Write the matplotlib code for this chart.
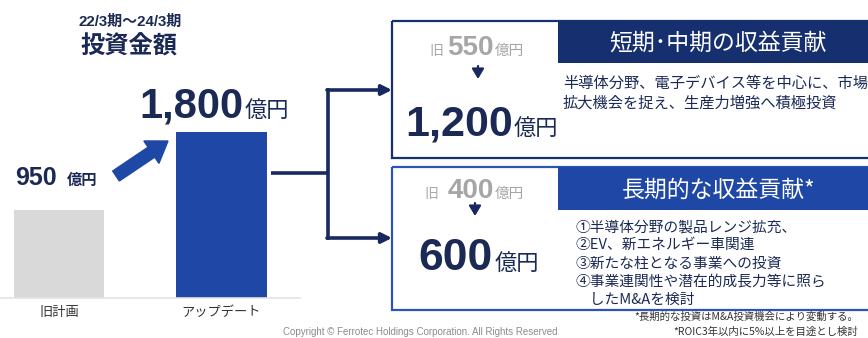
import matplotlib
matplotlib.use("Agg")
import matplotlib.pyplot as plt
from matplotlib.patches import Rectangle, FancyArrow

# ---------------- data ----------------
categories = ["旧計画", "アップデート"]
values = [950, 1800]
bar_colors = ["#d9d9d9", "#1f47a6"]

short_old, short_new = 550, 1200
long_old, long_new = 400, 600

title_period = "22/3期～24/3期"
title_main = "投資金額"
unit = "億円"
short_header = "短期･中期の収益貢献"
long_header = "長期的な収益貢献*"
short_body = ["半導体分野、電子デバイス等を中心に、市場",
              "拡大機会を捉え、生産力増強へ積極投資"]
long_body = ["①半導体分野の製品レンジ拡充、",
             "②EV、新エネルギー車関連",
             "③新たな柱となる事業への投資",
             "④事業連関性や潜在的成長力等に照ら",
             "　したM&Aを検討"]
footnotes = ["*長期的な投資はM&A投資機会により変動する。",
             "*ROIC3年以内に5%以上を目途とし検討"]
copyright_text = "Copyright © Ferrotec Holdings Corporation. All Rights Reserved"

# ---------------- style ----------------
NAVY = "#17295e"
HEAD_NAVY = "#162f6e"
BLUE = "#1f47a6"
GRAY_TXT = "#a6a6a6"
JP = ["Noto Sans CJK JP", "DejaVu Sans"]
NUM = ["Liberation Sans", "Noto Sans CJK JP", "DejaVu Sans"]

W, H = 868, 338
fig = plt.figure(figsize=(W / 100, H / 100), dpi=100)
fig.patch.set_facecolor("white")

# ---------------- bar chart ----------------
base_y = 298
bx = fig.add_axes([0, (H - base_y) / H, 300 / W, base_y / H])
bx.bar(range(len(values)), values, width=0.554, color=bar_colors, zorder=2)
bx.set_xlim(-0.363, 1.483)
bx.set_ylim(0, 3230)
bx.patch.set_alpha(0)
for s in ["top", "right", "left"]:
    bx.spines[s].set_visible(False)
bx.spines["bottom"].set_color("#e3e3e3")
bx.spines["bottom"].set_linewidth(1.2)
bx.set_yticks([])
bx.set_xticks(range(len(categories)))
bx.set_xticklabels(categories, fontfamily=JP, fontsize=9.5, color="#333333")
bx.tick_params(axis="x", length=0, pad=6)

# ---------------- overlay ----------------
ax = fig.add_axes([0, 0, 1, 1], zorder=3)
ax.set_xlim(0, W)
ax.set_ylim(H, 0)
ax.axis("off")
ax.patch.set_alpha(0)

# titles
ax.text(130, 22, title_period, ha="center", va="center", fontsize=10.8,
        fontweight="bold", family=NUM, color="#1b2a55")
ax.text(129, 47, title_main, ha="center", va="center", fontsize=17.5,
        fontweight="bold", family=JP, color="#1b2a55")

# value labels on the bars
ax.text(57, 185, f"{values[0]:,}", ha="right", va="baseline", fontsize=18,
        fontweight="bold", family=NUM, color="#1b2a55")
ax.text(67, 185, unit, ha="left", va="baseline", fontsize=11,
        fontweight="bold", family=JP, color="#1b2a55")
ax.text(243, 117, f"{values[1]:,}", ha="right", va="baseline", fontsize=30,
        fontweight="bold", family=NUM, color="#1b2a55")
ax.text(245, 117, unit, ha="left", va="baseline", fontsize=16,
        family=JP, color="#1b2a55")

# big blue arrow
ax.add_patch(FancyArrow(116, 176, 52, -35, width=12, head_width=27,
                        head_length=20, length_includes_head=True,
                        color=BLUE, zorder=4))

# connectors
ax.plot([271, 328], [173, 173], color=NAVY, lw=2.6, solid_capstyle="butt")
ax.plot([328, 328], [90, 238], color=NAVY, lw=2.6, solid_capstyle="projecting")
for yy in (90, 238):
    ax.annotate("", xy=(392, yy), xytext=(327, yy),
                arrowprops=dict(arrowstyle="-|>,head_length=0.6,head_width=0.3",
                                color=NAVY, lw=2.6, shrinkA=0, shrinkB=0))

# ---------------- top box ----------------
ax.add_patch(Rectangle((392, 21), 520, 137, fill=False, edgecolor=HEAD_NAVY, lw=1.6))
ax.add_patch(Rectangle((558, 21), 360, 42, facecolor=HEAD_NAVY, edgecolor="none"))
ax.text(718, 43, short_header, ha="center", va="center", fontsize=16.5,
        family=JP, color="white")
for i, line in enumerate(short_body):
    ax.text(563, 83 + 20 * i, line, ha="left", va="center", fontsize=11,
            family=JP, color="#1b2a55")
ax.text(443, 55, "旧", ha="right", va="baseline", fontsize=10, family=JP, color=GRAY_TXT)
ax.text(494, 55, f"{short_old}", ha="right", va="baseline", fontsize=20,
        fontweight="bold", family=NUM, color=GRAY_TXT)
ax.text(495, 55, unit, ha="left", va="baseline", fontsize=10.5, family=JP, color=GRAY_TXT)
ax.annotate("", xy=(478, 79), xytext=(478, 66),
            arrowprops=dict(arrowstyle="-|>,head_length=0.5,head_width=0.3",
                            mutation_scale=12, color=NAVY, lw=1.6,
                            shrinkA=0, shrinkB=0))
ax.text(513, 135, f"{short_new:,}", ha="right", va="baseline", fontsize=31,
        fontweight="bold", family=NUM, color="#1b2a55")
ax.text(514, 135, unit, ha="left", va="baseline", fontsize=16, family=JP, color="#1b2a55")

# ---------------- bottom box ----------------
ax.add_patch(Rectangle((392, 167), 520, 143, fill=False, edgecolor="#2a55b5", lw=1.6))
ax.add_patch(Rectangle((558, 167), 360, 43, facecolor=BLUE, edgecolor="none"))
ax.text(719, 190, long_header, ha="center", va="center", fontsize=16.5,
        family=JP, color="white")
for i, line in enumerate(long_body):
    ax.text(575, 227 + 18.3 * i, line, ha="left", va="center", fontsize=10.6,
            family=JP, color="#1b2a55")
ax.text(438, 198, "旧", ha="right", va="baseline", fontsize=10, family=JP, color=GRAY_TXT)
ax.text(494, 198, f"{long_old}", ha="right", va="baseline", fontsize=20,
        fontweight="bold", family=NUM, color=GRAY_TXT)
ax.text(495, 198, unit, ha="left", va="baseline", fontsize=10.5, family=JP, color=GRAY_TXT)
ax.annotate("", xy=(475, 216), xytext=(475, 203),
            arrowprops=dict(arrowstyle="-|>,head_length=0.5,head_width=0.3",
                            mutation_scale=12, color=NAVY, lw=1.6,
                            shrinkA=0, shrinkB=0))
ax.text(493, 270, f"{long_new}", ha="right", va="baseline", fontsize=32,
        fontweight="bold", family=NUM, color="#1b2a55")
ax.text(495, 270, unit, ha="left", va="baseline", fontsize=16, family=JP, color="#1b2a55")

# footnotes
for i, fn in enumerate(footnotes):
    ax.text(858, 317 + 15 * i, fn, ha="right", va="center", fontsize=7.5,
            family=JP, color="#333333")
ax.text(283, 332, copyright_text, ha="left", va="center", fontsize=7,
        family=NUM, color="#8c8c8c")

fig.savefig("out.png", dpi=100, facecolor="white")
